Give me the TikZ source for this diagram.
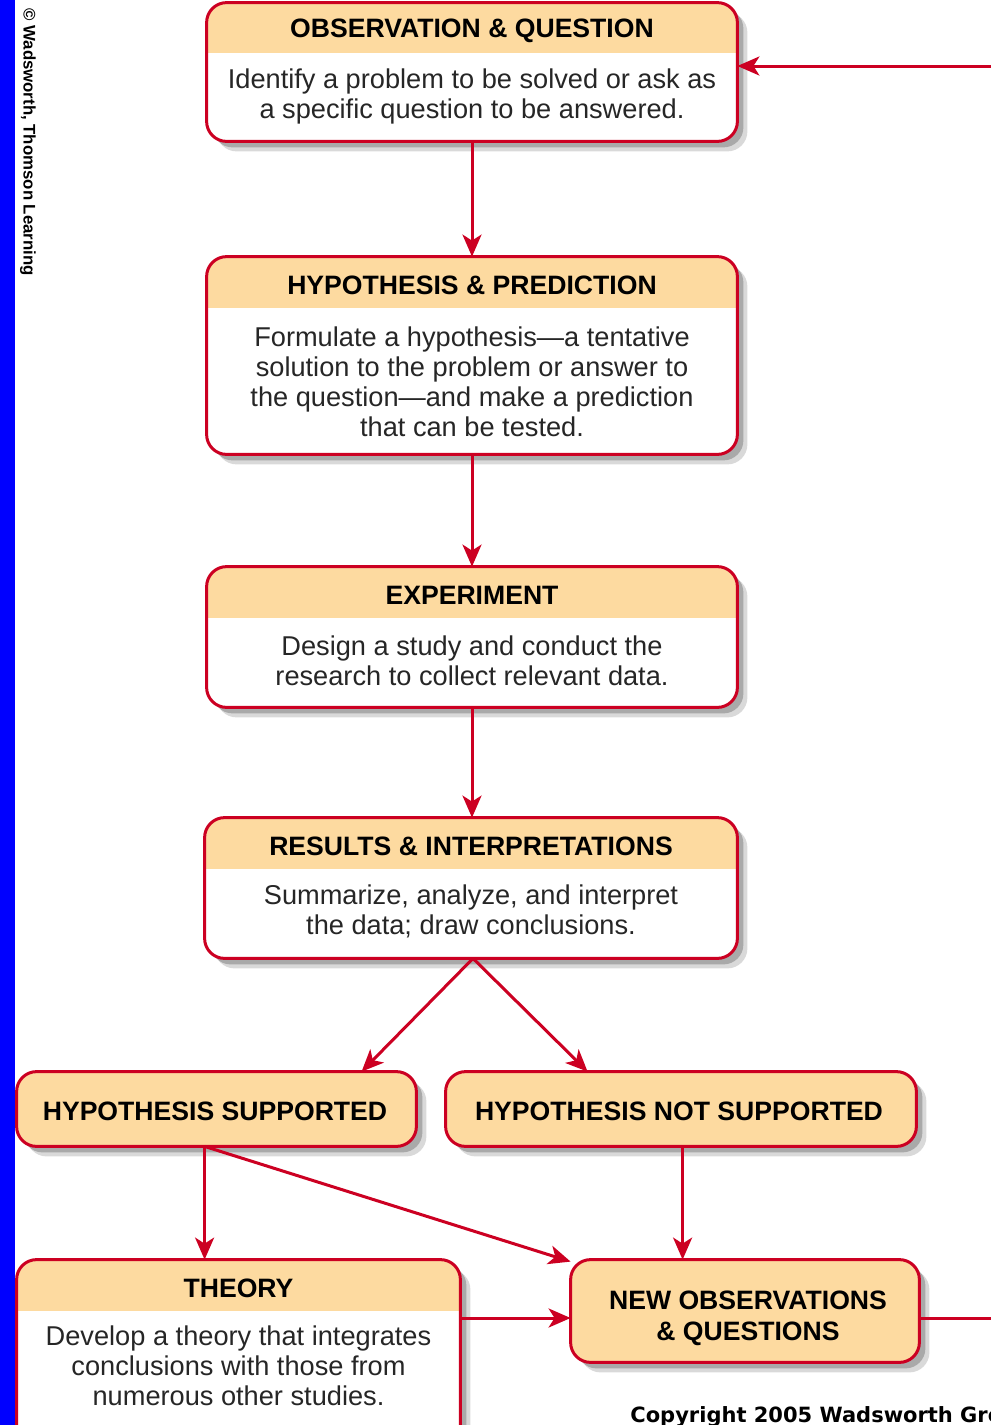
\documentclass[tikz,border=0pt]{standalone}
\usepackage{fontspec}
\setmainfont{Liberation Sans}
\newfontfamily\cfont{DejaVu Sans}
\usetikzlibrary{arrows.meta,calc,fit}
\definecolor{linered}{RGB}{204,0,34}
\definecolor{headfill}{RGB}{253,218,160}
\definecolor{barblue}{RGB}{0,0,255}
\tikzset{
 boxline/.style={draw=linered, line width=1.5pt},
 conn/.style={draw=linered, line width=1.5pt, -{Stealth[length=11pt,width=9.5pt,inset=3pt]}},
 plainline/.style={draw=linered, line width=1.5pt},
 titletext/.style={font=\bfseries\fontsize{13.3pt}{15.5pt}\selectfont, text=black, inner sep=0pt, align=center},
 bodytext/.style={font=\fontsize{13.6pt}{15pt}\selectfont, text=black!85, align=center, inner sep=0pt},
 shadowa/.style={fill=black, opacity=0.15},
 shadowb/.style={fill=black, opacity=0.22},
}
\newcommand\rc{10pt}
% #1 name #2 x1 #3 y1 #4 x2 #5 y2 #6 ysplit #7 title #8 body #9 body y centre
\newcommand\twobox[9]{%
 \node[fit={(#2,#3) (#4,#5)}, inner sep=0pt] (#1) {};
 \fill[shadowa, rounded corners=\rc] ($(#1.north west)+(10,10)$) rectangle ($(#1.south east)+(10,10)$);
 \fill[shadowb, rounded corners=\rc] ($(#1.north west)+(6,6)$) rectangle ($(#1.south east)+(6,6)$);
 \fill[white, rounded corners=\rc] (#1.north west) rectangle (#1.south east);
 \begin{scope}
  \clip[rounded corners=\rc] (#1.north west) rectangle (#1.south east);
  \fill[headfill] (#1.north west) rectangle (#4,#6);
 \end{scope}
 \draw[boxline, rounded corners=\rc] (#1.north west) rectangle (#1.south east);
 \node[titletext] at ({(#2+#4)/2},{(#3+#6)/2+3}) {#7};
 \node[bodytext] at ({(#2+#4)/2},#9) {#8};
}
% #1 name #2 x1 #3 y1 #4 x2 #5 y2 #6 text #7 text x centre #8 text y centre
\newcommand\onebox[8]{%
 \node[fit={(#2,#3) (#4,#5)}, inner sep=0pt] (#1) {};
 \fill[shadowa, rounded corners=\rc] ($(#1.north west)+(10,10)$) rectangle ($(#1.south east)+(10,10)$);
 \fill[shadowb, rounded corners=\rc] ($(#1.north west)+(6,6)$) rectangle ($(#1.south east)+(6,6)$);
 \fill[headfill, rounded corners=\rc] (#1.north west) rectangle (#1.south east);
 \draw[boxline, rounded corners=\rc] (#1.north west) rectangle (#1.south east);
 \node[titletext] at (#7,#8) {#6};
}
\begin{document}
\begin{tikzpicture}[x=0.5pt,y=-0.5pt]
\useasboundingbox (0,0) rectangle (991,1425);
\clip (0,0) rectangle (991,1425);
\fill[white] (0,0) rectangle (991,1425);
\fill[barblue] (0,0) rectangle (15,1425);
\node[rotate=-90, anchor=west, inner sep=0pt, font=\bfseries\fontsize{8.4pt}{10pt}\selectfont] (credit) at (28,8) {© Wadsworth, Thomson Learning};

\twobox{ob}{207}{3}{737}{141}{53}{OBSERVATION \& QUESTION}{Identify a problem to be solved or ask as\\a specific question to be answered.}{96}
\twobox{hp}{207}{257}{737}{454}{308}{HYPOTHESIS \& PREDICTION}{Formulate a hypothesis—a tentative\\solution to the problem or answer to\\the question—and make a prediction\\that can be tested.}{382}
\twobox{ex}{207}{567}{737}{707}{618}{EXPERIMENT}{Design a study and conduct the\\research to collect relevant data.}{661}
\twobox{ri}{205}{818}{737}{958}{869}{RESULTS \& INTERPRETATIONS}{Summarize, analyze, and interpret\\the data; draw conclusions.}{911}
\onebox{hs}{17}{1072}{416}{1146}{HYPOTHESIS SUPPORTED}{215}{1111}
\onebox{hn}{446}{1072}{916}{1146}{HYPOTHESIS NOT SUPPORTED}{679}{1111}
\twobox{th}{17}{1260}{460}{1445}{1311}{THEORY}{Develop a theory that integrates\\conclusions with those from\\numerous other studies.}{1366}
\onebox{no}{571}{1260}{919}{1362}{NEW OBSERVATIONS\\\& QUESTIONS}{748}{1318}

\node[anchor=base west, inner sep=0pt, font=\cfont\bfseries\fontsize{10.5pt}{12pt}\selectfont] (copy) at (630,1422) {Copyright 2005 Wadsworth Group};

\coordinate (ly) at (0,1318);
\coordinate (rexit) at (1000,1318);
\coordinate (rentry) at (1000,66);

\draw[conn] (ob.south) -- (hp.north);
\draw[conn] (hp.south) -- (ex.north);
\draw[conn] (ex.south) -- (ex.south |- ri.north);
\draw[conn] ($(ri.south)+(2,0)$) -- ($(hs.north west)+(345,0)$);
\draw[conn] ($(ri.south)+(2,0)$) -- ($(hn.north west)+(142,0)$);
\draw[conn] ($(hs.south west)+(188,0)$) -- ($(th.north west)+(188,0)$);
\draw[conn] ($(hs.south west)+(188,0)$) -- ($(no.north west)+(0,2)$);
\draw[conn] ($(hn.south west)+(237,0)$) -- ($(no.north west)+(112,0)$);
\draw[conn] (th.east |- ly) -- (no.west |- ly);
\draw[plainline] (no.east |- ly) -- (rexit);
\draw[conn] (rentry) -- (ob.east |- rentry);
\end{tikzpicture}
\end{document}
